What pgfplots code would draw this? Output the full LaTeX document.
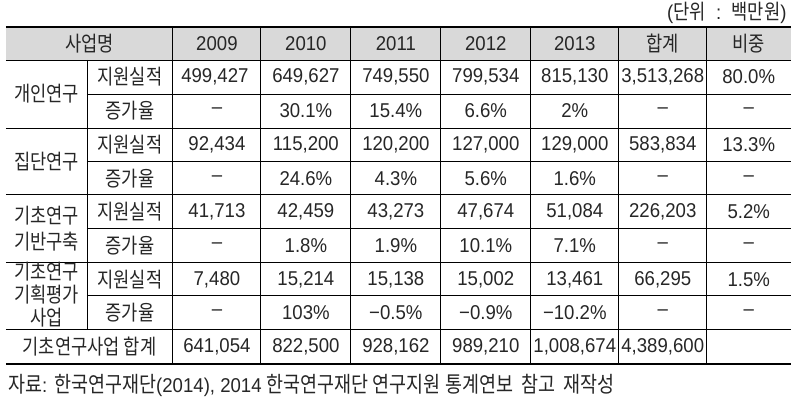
\documentclass[border=0pt]{standalone}
\usepackage{pgfplots}
\pgfplotsset{compat=1.18}
\usepackage{fontspec}
\setmainfont{Liberation Sans}[FakeStretch=0.93]
\newfontfamily\kr{Noto Sans CJK KR}[FakeStretch=0.84]
\definecolor{hdr}{RGB}{217,217,217}
\newcommand{\K}[1]{{\kr\fontsize{21bp}{24bp}\selectfont #1}}
\newcommand{\KS}[1]{{\kr\fontsize{22bp}{24bp}\selectfont #1}}
\begin{document}
\begin{tikzpicture}
\begin{axis}[
  width=792bp, height=403bp, scale only axis,
  xmin=0, xmax=792, ymin=0, ymax=403, y dir=reverse,
  hide axis, clip=false,
  every node near coord/.append style={anchor=center, inner sep=0pt, yshift=0pt,
     font=\fontsize{20bp}{24bp}\selectfont, text=black!85},
]
\path (axis cs:0,0) (axis cs:792,403);
\fill[hdr] (axis cs:6,27) rectangle (axis cs:791,60);
% thin horizontal lines
\draw[line width=0.9bp] (axis cs:6,60) -- (axis cs:791,60);
\draw[line width=0.9bp] (axis cs:87,94) -- (axis cs:791,94);
\draw[line width=0.9bp] (axis cs:6,128) -- (axis cs:791,128);
\draw[line width=0.9bp] (axis cs:87,162) -- (axis cs:791,162);
\draw[line width=0.9bp] (axis cs:6,195) -- (axis cs:791,195);
\draw[line width=0.9bp] (axis cs:87,229) -- (axis cs:791,229);
\draw[line width=0.9bp] (axis cs:6,263) -- (axis cs:791,263);
\draw[line width=0.9bp] (axis cs:87,296) -- (axis cs:791,296);
\draw[line width=0.9bp] (axis cs:6,330) -- (axis cs:791,330);
% vertical lines
\draw[line width=0.9bp] (axis cs:87,60) -- (axis cs:87,330);
\foreach \xx in {173,261,351,441,531,619,707}{
  \edef\tmp{\noexpand\draw[line width=0.9bp] (axis cs:\xx,27) -- (axis cs:\xx,364);}\tmp
}
% thick borders
\draw[line width=2.6bp] (axis cs:6,27) -- (axis cs:791,27);
\draw[line width=2.6bp] (axis cs:6,364) -- (axis cs:791,364);

% centered cells
\addplot[only marks, mark=*, mark size=0pt, mark options={draw=none,fill=none},
  point meta=explicit symbolic, nodes near coords] coordinates {
 (89.5,43.5) [\K{사업명}] (217,43.5) [2009] (306,43.5) [2010] (396,43.5) [2011]
 (486,43.5) [2012] (575,43.5) [2013] (663,43.5) [\K{합계}] (749,43.5) [\K{비중}]
 (46.5,94) [\K{개인연구}] (46.5,162) [\K{집단연구}]
 (46.5,216) [\K{기초연구}] (46.5,242) [\K{기반구축}]
 (46.5,272) [\K{기초연구}] (46.5,295) [\K{기획평가}] (46.5,318) [\K{사업}]
 (130,77) [\K{지원실적}] (215,77) [499,427] (306,77) [649,627] (396,77) [749,550]
 (486,77) [799,534] (575,77) [815,130] (663,77) [3,513,268] (749,77) [80.0\%]
 (130,111) [\K{증가율}] (217,111) [–] (306,111) [30.1\%] (396,111) [15.4\%]
 (486,111) [6.6\%] (575,111) [2\%] (663,111) [–] (749,111) [–]
 (130,145) [\K{지원실적}] (217,145) [92,434] (306,145) [115,200] (396,145) [120,200]
 (486,145) [127,000] (575,145) [129,000] (663,145) [583,834] (749,145) [13.3\%]
 (130,178.5) [\K{증가율}] (217,178.5) [–] (306,178.5) [24.6\%] (396,178.5) [4.3\%]
 (486,178.5) [5.6\%] (575,178.5) [1.6\%] (663,178.5) [–] (749,178.5) [–]
 (130,212) [\K{지원실적}] (217,212) [41,713] (306,212) [42,459] (396,212) [43,273]
 (486,212) [47,674] (575,212) [51,084] (663,212) [226,203] (749,212) [5.2\%]
 (130,246) [\K{증가율}] (217,246) [–] (306,246) [1.8\%] (396,246) [1.9\%]
 (486,246) [10.1\%] (575,246) [7.1\%] (663,246) [–] (749,246) [–]
 (130,279.5) [\K{지원실적}] (217,279.5) [7,480] (306,279.5) [15,214] (396,279.5) [15,138]
 (486,279.5) [15,002] (575,279.5) [13,461] (663,279.5) [66,295] (749,279.5) [1.5\%]
 (130,313) [\K{증가율}] (217,313) [–] (306,313) [103\%] (396,313) [−0.5\%]
 (486,313) [−0.9\%] (575,313) [−10.2\%] (663,313) [–] (749,313) [–]
 (89.5,347) [\K{기초연구사업 합계}] (217,347) [641,054] (306,347) [822,500] (396,347) [928,162]
 (486,347) [989,210] (575,347) [1,008,674] (663,347) [4,389,600]
};
% unit note (right aligned)
\addplot[only marks, mark=*, mark size=0pt, mark options={draw=none,fill=none},
  point meta=explicit symbolic, nodes near coords,
  every node near coord/.append style={anchor=east}] coordinates {
 (787,13) [(\K{단위}\ \ :\ \ \K{백만원})]
};
% source note (left aligned)
\addplot[only marks, mark=*, mark size=0pt, mark options={draw=none,fill=none},
  point meta=explicit symbolic, nodes near coords,
  every node near coord/.append style={anchor=west}] coordinates {
 (8,386) [\KS{자료}: \KS{한국연구재단}(2014), 2014 \KS{한국연구재단\ 연구지원\ 통계연보\ \ 참고\ \ 재작성}]
};
\end{axis}
\end{tikzpicture}
\end{document}
